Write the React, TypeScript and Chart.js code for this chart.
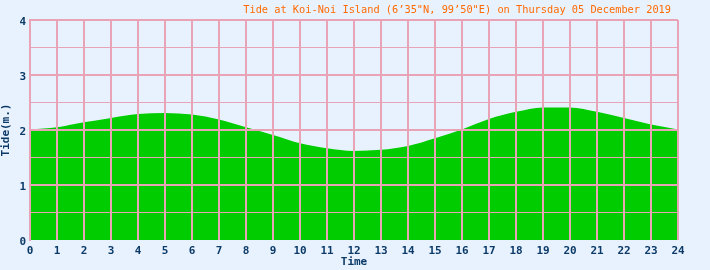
import React, { useEffect, useRef } from "react";
import { Chart, registerables } from "chart.js";

Chart.register(...registerables);

const hours = [0, 1, 2, 3, 4, 5, 6, 7, 8, 9, 10, 11, 12, 13, 14, 15, 16, 17, 18, 19, 20, 21, 22, 23, 24];
const tide = [2.01, 2.05, 2.14, 2.22, 2.29, 2.31, 2.28, 2.19, 2.05, 1.91, 1.76, 1.67, 1.62, 1.64, 1.71, 1.85, 2.01, 2.2, 2.33, 2.41, 2.41, 2.33, 2.22, 2.1, 2.01];
const titleText = "Tide at Koi-Noi Island (6\u201935\"N, 99\u201950\"E) on Thursday 05 December 2019";
const xTitle = "Time";
const yTitle = "Tide(m.)";

const BG = "#e8f2fe";
const PINK = "#e8a4b6";
const NAVY = "#0b3a68";
const GREEN = "#00cc00";
const ORANGE = "#ff6a00";

export default function App() {
  const ref = useRef<HTMLCanvasElement | null>(null);
  useEffect(() => {
    document.body.style.margin = "0";
    const canvas = ref.current!;
    const bgPlugin = {
      id: "bg",
      beforeDraw(chart: any) {
        const c = chart.ctx;
        c.save();
        c.fillStyle = BG;
        c.fillRect(0, 0, chart.width, chart.height);
        c.restore();
      },
      afterDraw(chart: any) {
        const c = chart.ctx;
        c.save();
        c.fillStyle = ORANGE;
        c.font = "10.3px 'DejaVu Sans Mono'";
        c.textAlign = "right";
        c.textBaseline = "middle";
        c.fillText(titleText, chart.chartArea.right - 7, 10);
        c.restore();
      },
    };
    const chart = new Chart(canvas, {
      type: "line",
      data: {
        datasets: [
          {
            data: hours.map((h, i) => ({ x: h, y: tide[i] })),
            fill: "origin",
            backgroundColor: GREEN,
            borderWidth: 0,
            borderColor: GREEN,
            pointRadius: 0,
            cubicInterpolationMode: "monotone",
          },
        ],
      },
      options: {
        animation: false,
        responsive: false,
        devicePixelRatio: 1,
        layout: { padding: { top: 20, right: 32, left: 0, bottom: 0 } },
        plugins: { legend: { display: false }, tooltip: { enabled: false }, title: { display: false } },
        scales: {
          x: {
            type: "linear",
            min: 0,
            max: 24,
            afterFit: (s: any) => {
              s.height = 30;
              s.paddingLeft = 0;
              s.paddingRight = 0;
            },
            ticks: {
              stepSize: 1,
              color: NAVY,
              padding: 5,
              maxRotation: 0,
              autoSkip: false,
              font: { family: "'DejaVu Sans Mono'", size: 11, weight: "bold" },
            },
            grid: { color: PINK, lineWidth: 2, drawTicks: false, z: 1 },
            border: { display: false },
            title: {
              display: true,
              text: xTitle,
              color: NAVY,
              padding: { top: 0, bottom: 1 },
              font: { family: "'DejaVu Sans Mono'", size: 11, weight: "bold" },
            },
          },
          y: {
            min: 0,
            max: 4,
            afterFit: (s: any) => {
              s.width = 30;
              s.paddingTop = 0;
              s.paddingBottom = 0;
            },
            ticks: {
              stepSize: 0.5,
              color: NAVY,
              padding: 4,
              labelOffset: 2,
              font: { family: "'DejaVu Sans Mono'", size: 11, weight: "bold" },
              callback: (v: any) => (Number.isInteger(v) ? String(v) : ""),
            },
            grid: {
              drawTicks: false,
              z: 1,
              color: (ctx: any) => (ctx.tick && ctx.tick.value === 0 ? "rgba(0,0,0,0)" : PINK),
              lineWidth: (ctx: any) => (ctx.tick && Number.isInteger(ctx.tick.value) ? 2 : 1),
            },
            border: { display: true, color: PINK, width: 2, z: 1 },
            title: {
              display: true,
              text: yTitle,
              color: NAVY,
              padding: { top: 0, bottom: 0 },
              font: { family: "'DejaVu Sans Mono'", size: 11, weight: "bold" },
            },
          },
        },
      },
      plugins: [bgPlugin],
    } as any);
    return () => chart.destroy();
  }, []);
  return (
    <div style={{ width: 710, height: 270 }}>
      <canvas ref={ref} width={710} height={270} style={{ display: "block" }} />
    </div>
  );
}
